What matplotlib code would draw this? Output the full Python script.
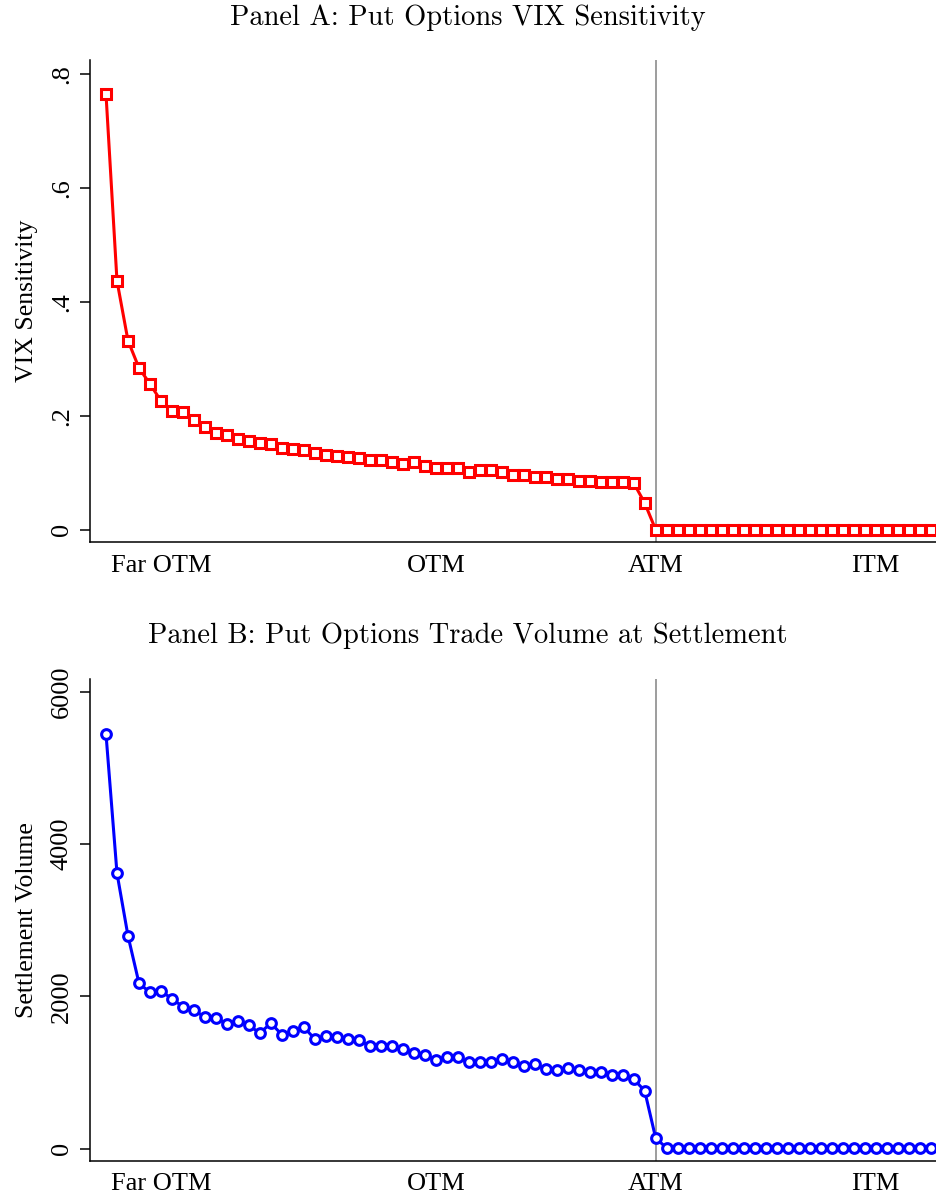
import numpy as np
import matplotlib
matplotlib.use('Agg')
import matplotlib.pyplot as plt

# moneyness bins, far OTM -> ITM; ATM bin at index 50
n_bins = 76
atm_idx = 50
tick_pos = [5, 30, 50, 70]
tick_labels = ['Far OTM', 'OTM', 'ATM', 'ITM']

vix_sens = [
    0.765, 0.437, 0.332, 0.284, 0.256, 0.226, 0.208, 0.206, 0.192, 0.180,
    0.169, 0.166, 0.160, 0.156, 0.153, 0.150, 0.143, 0.141, 0.140, 0.134,
    0.132, 0.130, 0.128, 0.126, 0.122, 0.122, 0.118, 0.116, 0.118, 0.111,
    0.109, 0.108, 0.108, 0.102, 0.105, 0.104, 0.102, 0.096, 0.096, 0.093,
    0.092, 0.089, 0.089, 0.086, 0.086, 0.084, 0.083, 0.083, 0.082, 0.047,
] + [0.0] * 26

settle_vol = [
    5445, 3617, 2795, 2174, 2051, 2077, 1964, 1867, 1824, 1723,
    1715, 1640, 1683, 1618, 1518, 1649, 1496, 1539, 1597, 1439,
    1483, 1473, 1443, 1421, 1351, 1342, 1342, 1308, 1263, 1229,
    1168, 1203, 1203, 1132, 1141, 1141, 1177, 1132, 1089, 1111,
    1046, 1036, 1063, 1027, 1001, 1001, 971, 962, 914, 761,
    140, 9,
] + [4] * 24

x = np.arange(n_bins)

serif = 'Liberation Serif'
fig = plt.figure(figsize=(9.36, 11.98), dpi=100)

W, H = 936.0, 1198.0
def axes_at(left, top, right, bottom):
    return fig.add_axes([left / W, 1 - bottom / H, (right - left) / W, (bottom - top) / H])

panels = [
    dict(box=(89.5, 60, 936, 542), y=vix_sens, color='red', marker='s',
         ylim=(-0.0216, 0.8246), yticks=[0, 0.2, 0.4, 0.6, 0.8],
         yticklabels=['0', '.2', '.4', '.6', '.8'], ylabel='VIX Sensitivity',
         title='Panel A: Put Options VIX Sensitivity', title_y=18),
    dict(box=(89.5, 679, 936, 1161), y=settle_vol, color='blue', marker='o',
         ylim=(-161, 6166), yticks=[0, 2000, 4000, 6000],
         yticklabels=['0', '2000', '4000', '6000'], ylabel='Settlement Volume',
         title='Panel B: Put Options Trade Volume at Settlement', title_y=636),
]

for p in panels:
    ax = axes_at(*p['box'])
    ax.axvline(atm_idx, color='#8c8c8c', lw=1.2, zorder=1)
    ax.plot(x, p['y'], color=p['color'], lw=2.2, marker=p['marker'],
            ms=7, mfc='white', mec=p['color'], mew=2.2, zorder=3)
    ax.set_xlim(-1.5, 75.5)
    ax.set_ylim(*p['ylim'])
    ax.set_xticks(tick_pos)
    ax.set_xticklabels(tick_labels, fontfamily=serif, fontsize=19)
    ax.set_yticks(p['yticks'])
    ax.set_yticklabels(p['yticklabels'], fontfamily=serif, fontsize=19,
                       rotation=90, va='center')
    ax.tick_params(axis='x', length=0, pad=9)
    ax.tick_params(axis='y', length=7, width=1.1, pad=5)
    for side in ('top', 'right'):
        ax.spines[side].set_visible(False)
    for side in ('left', 'bottom'):
        ax.spines[side].set_linewidth(1.1)
    ax.set_ylabel(p['ylabel'], fontfamily=serif, fontsize=18.5, labelpad=9)
    fig.text(0.5, 1 - p['title_y'] / H, p['title'], ha='center', va='center',
             fontfamily='cmr10', fontsize=20.5)

fig.savefig('out.png', dpi=100)
